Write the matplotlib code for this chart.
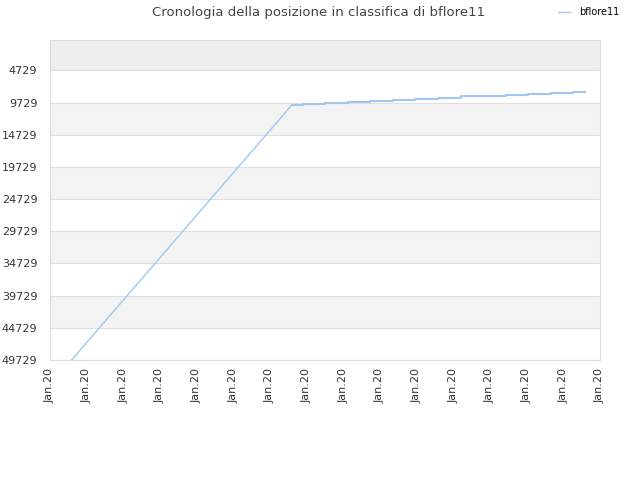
import matplotlib
matplotlib.use('Agg')
import matplotlib.pyplot as plt

# Salita iniziale (lineare) e poi gradini.
rise_x = [0.59, 6.60]
rise_y = [49729, 10087]

step_x = [6.60, 6.91, 7.50, 8.13, 8.73, 9.36, 9.95, 10.59, 11.21, 11.81,
          12.44, 13.05, 13.66, 14.26, 14.59]
step_y = [10087, 9932, 9776, 9621, 9466, 9310, 9155, 9000, 8782, 8627,
          8534, 8379, 8224, 8068, 8068]

y_ticks = [4729, 9729, 14729, 19729, 24729, 29729, 34729, 39729, 44729, 49729]
x_ticks = list(range(16))
x_labels = ['Jan.20'] * 16

line_color = '#9ec8f2'

fig = plt.figure(figsize=(6.4, 4.8), dpi=100)
ax = fig.add_axes([0.078, 0.25, 0.8595, 0.6667])

ax.set_ylim(49729, 0)
ax.set_xlim(0, 15)

# Bande alternate.
bounds = [0] + y_ticks
for i in range(len(bounds) - 1):
    if i % 2 == 0:
        col = '#eeeeee' if i == 0 else '#f3f3f3'
        ax.axhspan(bounds[i], bounds[i + 1], color=col, zorder=0, lw=0)

for yt in y_ticks:
    ax.axhline(yt, color='#e0e0e0', lw=0.8, zorder=1)

ax.plot(rise_x, rise_y, color=line_color, lw=1, zorder=3, label='bflore11')
ax.plot(step_x, step_y, color=line_color, lw=1.5, zorder=3,
        drawstyle='steps-post')

ax.set_yticks(y_ticks)
ax.set_yticklabels([str(v) for v in y_ticks], fontsize=8, color='#333333')
ax.set_xticks(x_ticks)
ax.set_xticklabels(x_labels, rotation=90, fontsize=8, color='#333333')
ax.tick_params(length=0, pad=6)
ax.tick_params(axis='y', pad=9)

for s in ax.spines.values():
    s.set_color('#dddddd')

fig.text(0.497, 0.988, 'Cronologia della posizione in classifica di bflore11',
         ha='center', va='top', fontsize=9.5, color='#444444')

fig.legend(loc='upper right', bbox_to_anchor=(0.982, 1.003), frameon=False,
           fontsize=7, handlelength=1.2, handletextpad=1.0)

fig.savefig('out.png', dpi=100)
